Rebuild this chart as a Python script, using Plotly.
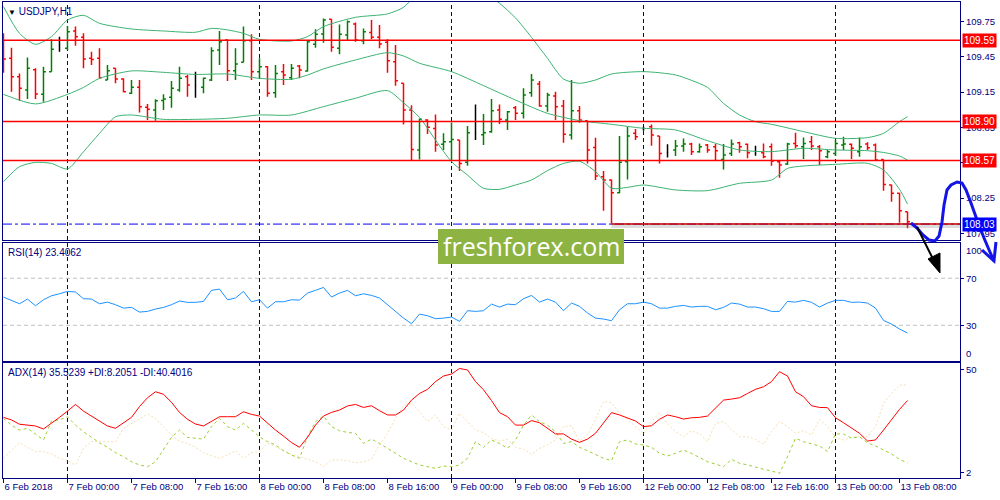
import plotly.graph_objects as go
from plotly.subplots import make_subplots

NAVY = "#000080"
BAND_COLOR = "#3CB371"
FONT = "Liberation Sans"

# hourly bars, 6 Feb 16:00 .. 13 Feb 09:00 (bar index on x)
bar_open = [
    109.508, 109.437, 109.281, 109.168, 109.340, 109.131, 109.323, 109.550, 109.522, 109.669,
    109.615, 109.437, 109.437, 109.253, 109.352, 109.261, 109.140, 109.191, 109.021, 108.998,
    109.080, 109.106, 109.168, 109.281, 109.207, 109.191, 109.253, 109.508, 109.592, 109.332,
    109.403, 109.587, 109.323, 109.366, 109.145, 109.323, 109.273, 109.372, 109.329, 109.556,
    109.643, 109.768, 109.522, 109.635, 109.728, 109.587, 109.657, 109.615, 109.573, 109.408,
    109.225, 108.998, 108.658, 108.913, 108.842, 108.707, 108.729, 108.743, 108.554, 108.800,
    108.789, 108.814, 108.998, 108.913, 109.018, 108.970, 109.145, 109.219, 109.032, 109.117,
    109.032, 108.786, 108.992, 108.908, 108.681, 108.432, 108.404, 108.296, 108.559, 108.800,
    108.837, 108.857, 108.777, 108.636, 108.658, 108.692, 108.709, 108.644, 108.701, 108.687,
    108.579, 108.630, 108.721, 108.707, 108.630, 108.636, 108.687, 108.559, 108.540, 108.715,
    108.687, 108.729, 108.687, 108.602, 108.630, 108.701, 108.707, 108.644, 108.709, 108.701,
    108.579, 108.362, 108.291, 108.135,
]
bar_high = [
    109.649, 109.527, 109.309, 109.445, 109.352, 109.366, 109.598, 109.621, 109.711, 109.706,
    109.649, 109.493, 109.522, 109.380, 109.352, 109.267, 109.253, 109.253, 109.049, 109.089,
    109.131, 109.244, 109.366, 109.295, 109.323, 109.275, 109.530, 109.669, 109.598, 109.522,
    109.706, 109.641, 109.437, 109.372, 109.380, 109.389, 109.389, 109.380, 109.592, 109.683,
    109.776, 109.768, 109.725, 109.757, 109.742, 109.691, 109.762, 109.720, 109.598, 109.550,
    109.225, 109.038, 108.927, 108.919, 108.961, 108.800, 108.893, 108.743, 108.862, 109.046,
    108.964, 109.092, 109.046, 108.990, 109.032, 109.182, 109.304, 109.244, 109.145, 109.154,
    109.083, 109.253, 109.032, 108.908, 108.763, 108.480, 108.409, 108.777, 108.857, 108.837,
    108.857, 108.876, 108.777, 108.707, 108.743, 108.757, 108.721, 108.715, 108.709, 108.709,
    108.709, 108.749, 108.729, 108.715, 108.695, 108.715, 108.715, 108.573, 108.721, 108.806,
    108.766, 108.777, 108.701, 108.658, 108.743, 108.772, 108.715, 108.766, 108.724, 108.715,
    108.579, 108.367, 108.296, 108.135,
]
bar_low = [
    109.315, 109.154, 109.077, 109.091, 109.091, 109.069, 109.323, 109.493, 109.508, 109.544,
    109.352, 109.380, 109.267, 109.253, 109.225, 109.148, 109.134, 108.978, 108.913, 108.908,
    108.998, 109.018, 109.154, 109.111, 109.103, 109.140, 109.244, 109.380, 109.244, 109.253,
    109.403, 109.253, 109.267, 109.111, 109.103, 109.210, 109.253, 109.267, 109.323, 109.527,
    109.570, 109.493, 109.471, 109.592, 109.578, 109.556, 109.598, 109.522, 109.315, 109.205,
    108.876, 108.565, 108.579, 108.794, 108.644, 108.658, 108.565, 108.480, 108.526, 108.743,
    108.701, 108.806, 108.879, 108.828, 108.913, 108.927, 109.111, 109.026, 108.984, 108.913,
    108.721, 108.749, 108.891, 108.545, 108.404, 108.144, 108.036, 108.291, 108.409, 108.743,
    108.823, 108.695, 108.545, 108.596, 108.607, 108.644, 108.616, 108.636, 108.636, 108.565,
    108.494, 108.607, 108.636, 108.588, 108.610, 108.588, 108.526, 108.424, 108.531, 108.673,
    108.582, 108.658, 108.531, 108.588, 108.607, 108.658, 108.582, 108.602, 108.658, 108.568,
    108.313, 108.220, 108.042, 107.994,
]
bar_close = [
    109.431, 109.281, 109.182, 109.352, 109.135, 109.323, 109.513, 109.550, 109.663, 109.621,
    109.431, 109.428, 109.273, 109.332, 109.261, 109.154, 109.191, 109.026, 109.004, 109.077,
    109.092, 109.182, 109.267, 109.210, 109.207, 109.267, 109.502, 109.578, 109.332, 109.389,
    109.587, 109.323, 109.366, 109.140, 109.309, 109.295, 109.352, 109.338, 109.578, 109.641,
    109.762, 109.530, 109.641, 109.748, 109.592, 109.663, 109.615, 109.558, 109.417, 109.247,
    108.998, 108.664, 108.919, 108.851, 108.701, 108.729, 108.749, 108.545, 108.806, 108.800,
    108.806, 108.992, 108.919, 108.984, 108.970, 109.125, 109.253, 109.032, 109.125, 109.026,
    108.792, 108.992, 108.913, 108.658, 108.438, 108.404, 108.296, 108.554, 108.777, 108.772,
    108.837, 108.786, 108.630, 108.636, 108.692, 108.709, 108.644, 108.687, 108.658, 108.653,
    108.616, 108.709, 108.687, 108.636, 108.630, 108.602, 108.565, 108.531, 108.709, 108.695,
    108.715, 108.692, 108.653, 108.644, 108.715, 108.709, 108.673, 108.687, 108.678, 108.573,
    108.367, 108.291, 108.144, 108.050,
]

# Bollinger bands at sample bars
bb_upper_bars = [0, 2, 4, 6, 8, 10, 12, 16, 20, 24, 26, 28, 30, 32, 36, 38, 40, 44, 48, 50,
                 52, 56, 60, 62, 64, 66, 68, 70, 72, 74, 76, 80, 84, 86, 88, 90, 92, 94, 96,
                 100, 104, 108, 110, 112, 113]
bb_upper = [109.876, 109.649, 109.556, 109.621, 109.762, 109.802, 109.734, 109.686, 109.669,
            109.658, 109.691, 109.678, 109.649, 109.598, 109.584, 109.621, 109.706, 109.785,
            109.814, 109.870, 110.000, 110.100, 110.000, 109.904, 109.780, 109.615, 109.437,
            109.261, 109.225, 109.253, 109.304, 109.324, 109.296, 109.250, 109.190, 109.055,
            108.956, 108.899, 108.877, 108.815, 108.758, 108.764, 108.800, 108.900, 108.942]
bb_middle_bars = [0, 4, 8, 10, 12, 16, 20, 24, 28, 32, 36, 38, 40, 44, 48, 50, 52, 56, 60,
                  64, 68, 72, 76, 80, 84, 88, 92, 96, 100, 104, 108, 110, 112, 113]
bb_middle = [109.131, 109.050, 109.131, 109.190, 109.267, 109.330, 109.318, 109.300, 109.304,
             109.267, 109.259, 109.295, 109.347, 109.423, 109.485, 109.457, 109.395, 109.324,
             109.205, 109.083, 108.970, 108.908, 108.877, 108.843, 108.829, 108.738, 108.659,
             108.645, 108.673, 108.659, 108.653, 108.638, 108.608, 108.574]
bb_lower_bars = [0, 2, 4, 6, 8, 10, 12, 14, 16, 20, 24, 28, 32, 36, 40, 44, 48, 50, 52, 54,
                 56, 58, 60, 62, 64, 66, 68, 70, 72, 74, 76, 78, 80, 84, 88, 92, 96, 98, 100,
                 104, 108, 110, 112, 113]
bb_lower = [108.390, 108.517, 108.554, 108.545, 108.498, 108.644, 108.800, 108.941, 108.956,
            108.919, 108.919, 108.928, 108.956, 108.956, 109.027, 109.098, 109.163, 109.060,
            108.936, 108.743, 108.560, 108.446, 108.334, 108.325, 108.362, 108.404, 108.484,
            108.545, 108.563, 108.475, 108.334, 108.342, 108.362, 108.320, 108.314, 108.376,
            108.404, 108.503, 108.523, 108.537, 108.546, 108.489, 108.325, 108.200]

rsi = [
    54.0, 51.2, 48.3, 52.3, 46.6, 51.7, 55.1, 56.8, 58.8, 58.3,
    52.6, 52.3, 48.3, 49.7, 47.5, 44.6, 45.2, 41.2, 41.8, 43.8,
    45.2, 47.5, 50.6, 49.5, 49.5, 50.3, 59.7, 60.8, 51.7, 53.2,
    58.8, 50.0, 51.7, 44.6, 50.0, 50.0, 51.7, 51.4, 57.4, 59.7,
    62.2, 54.0, 57.4, 59.7, 55.1, 56.8, 55.4, 53.2, 47.5, 41.8,
    36.1, 31.3, 39.5, 38.1, 35.6, 36.1, 37.0, 33.3, 42.4, 41.8,
    42.4, 48.0, 45.5, 48.0, 47.5, 52.6, 55.4, 49.7, 52.3, 49.7,
    42.4, 48.9, 46.1, 40.4, 36.1, 35.3, 33.9, 43.2, 48.3, 48.3,
    49.7, 48.3, 44.6, 44.6, 46.1, 46.9, 45.5, 46.1, 46.1, 43.2,
    45.2, 48.9, 48.0, 45.5, 45.5, 44.1, 41.8, 41.8, 50.3, 49.7,
    51.2, 49.5, 45.5, 48.9, 51.2, 51.2, 49.5, 49.7, 48.9, 44.6,
    34.1, 31.0, 26.8, 23.4,
]
adx = [
    27.7, 26.5, 24.5, 24.1, 23.7, 22.3, 24.9, 27.7, 30.6, 33.7,
    30.6, 28.3, 26.2, 23.7, 22.6, 25.2, 27.7, 32.7, 36.8, 39.6,
    38.4, 34.7, 30.0, 26.8, 24.6, 23.7, 25.7, 28.0, 28.0, 28.0,
    30.3, 29.1, 28.3, 24.9, 21.8, 19.0, 16.0, 13.8, 18.4, 24.1,
    28.3, 30.0, 31.1, 33.0, 33.7, 32.3, 33.1, 30.8, 28.8, 28.8,
    31.1, 35.7, 38.8, 40.7, 44.3, 46.9, 47.8, 50.4, 49.7, 44.3,
    40.5, 35.5, 29.9, 28.0, 24.1, 24.1, 26.2, 25.2, 22.6, 20.0,
    20.0, 17.6, 16.1, 17.6, 20.3, 24.9, 29.9, 28.8, 27.5, 26.0,
    23.4, 23.8, 26.8, 28.8, 28.0, 26.9, 27.5, 27.7, 28.3, 31.9,
    35.7, 36.2, 36.8, 38.8, 40.7, 41.9, 44.3, 48.9, 46.9, 39.6,
    37.3, 33.1, 32.3, 32.2, 27.5, 25.2, 22.9, 20.3, 16.7, 17.2,
    21.8, 26.5, 31.4, 35.5,
]
plus_di = [
    27.2, 24.1, 21.8, 22.6, 20.0, 17.2, 26.0, 26.5, 28.0, 24.1,
    21.0, 18.4, 15.9, 13.8, 11.3, 9.4, 7.1, 5.6, 4.8, 7.1,
    12.5, 18.4, 21.8, 18.4, 18.0, 17.6, 23.4, 27.2, 23.4, 21.8,
    24.9, 21.8, 18.7, 16.4, 14.9, 12.2, 10.2, 8.7, 18.7, 25.7,
    28.3, 23.4, 21.5, 20.7, 20.3, 15.6, 17.6, 15.6, 13.3, 11.0,
    8.7, 7.1, 5.6, 4.8, 4.0, 5.1, 4.8, 5.6, 8.7, 16.4,
    13.8, 17.2, 15.6, 13.3, 17.2, 24.1, 28.8, 25.7, 24.1, 21.0,
    15.6, 16.4, 13.8, 12.2, 10.5, 8.7, 7.6, 16.4, 17.2, 15.3,
    14.9, 13.8, 11.0, 9.8, 11.0, 12.5, 11.0, 9.1, 7.1, 6.0,
    4.8, 8.2, 6.4, 5.6, 4.5, 3.6, 2.8, 1.7, 9.4, 18.0,
    16.4, 15.3, 14.4, 11.8, 20.0, 20.0, 18.0, 18.7, 15.9, 14.4,
    12.5, 10.7, 8.2, 6.6,
]
minus_di = [
    8.7, 12.5, 15.9, 13.8, 11.8, 11.8, 10.7, 8.7, 7.6, 5.6,
    13.3, 16.4, 16.7, 16.4, 16.4, 22.6, 24.9, 26.8, 29.2, 27.2,
    23.4, 19.5, 16.7, 15.6, 13.8, 11.3, 9.8, 8.7, 10.2, 12.2,
    8.7, 11.3, 11.8, 15.6, 14.1, 12.2, 10.5, 9.4, 8.4, 7.1,
    4.8, 7.9, 7.9, 7.6, 6.6, 7.1, 8.2, 14.9, 20.3, 27.2,
    32.7, 34.5, 30.3, 25.7, 28.8, 23.4, 21.8, 29.6, 25.7, 21.8,
    20.6, 17.9, 16.7, 17.5, 13.8, 12.9, 10.5, 13.3, 14.9, 17.2,
    23.4, 23.8, 16.7, 19.5, 26.8, 35.0, 34.5, 29.6, 26.8, 23.4,
    20.0, 25.7, 29.9, 24.6, 21.0, 18.7, 21.5, 20.0, 16.4, 24.9,
    25.7, 22.1, 18.7, 18.7, 17.5, 15.3, 21.0, 25.7, 23.4, 20.3,
    21.5, 19.5, 26.8, 23.4, 18.4, 17.2, 18.4, 19.0, 18.7, 23.4,
    34.2, 38.8, 42.7, 42.7,
]

label_bars = [0, 8, 16, 24, 32, 40, 48, 56, 64, 72, 80, 88, 96, 104, 112]
label_text = ["6 Feb 2018", "7 Feb 00:00", "7 Feb 08:00", "7 Feb 16:00", "8 Feb 00:00",
              "8 Feb 08:00", "8 Feb 16:00", "9 Feb 00:00", "9 Feb 08:00", "9 Feb 16:00",
              "12 Feb 00:00", "12 Feb 08:00", "12 Feb 16:00", "13 Feb 00:00", "13 Feb 08:00"]
day_start_bars = [8, 32, 56, 80, 104]

price_ticks = [107.95, 108.25, 108.55, 108.85, 109.15, 109.45, 109.75]
red_levels = [109.59, 108.90, 108.57]
blue_level = 108.03
support_start_bar = 76

X_RANGE = [-0.06, 119.56]
PRICE_RANGE = [107.895, 109.915]
ADX_RANGE = [-0.46, 53.16]

# plot area in pixels (for the hand-made drawings on top)
PLOT_L, PLOT_R, PLOT_T, PLOT_B = 3, 960, 2, 478


def to_paper(px, py):
    return (px - PLOT_L) / (PLOT_R - PLOT_L), (PLOT_B - py) / (PLOT_B - PLOT_T)


def path_from_px(points, close=False):
    parts = []
    for i, (px, py) in enumerate(points):
        x, y = to_paper(px, py)
        parts.append(("M" if i == 0 else "L") + f"{x:.4f},{y:.4f}")
    return " ".join(parts) + (" Z" if close else "")


bars = list(range(len(bar_close)))

fig = make_subplots(rows=3, cols=1, shared_xaxes=True, vertical_spacing=0.0)

# price bars split by direction, dojis in black
groups = [
    ("up", "#008000", 0.3, [i for i in bars if bar_close[i] > bar_open[i]]),
    ("down", "#FF0000", 0.3, [i for i in bars if bar_close[i] < bar_open[i]]),
    ("doji", "#000000", 0.1, [i for i in bars if bar_close[i] == bar_open[i]]),
]
for name, color, tw, idx in groups:
    fig.add_trace(go.Ohlc(
        x=idx,
        open=[bar_open[i] for i in idx],
        high=[bar_high[i] for i in idx],
        low=[bar_low[i] for i in idx],
        close=[bar_close[i] for i in idx],
        increasing=dict(line=dict(color=color, width=1.5)),
        decreasing=dict(line=dict(color=color, width=1.5)),
        tickwidth=tw, hoverinfo="skip", name=name,
    ), row=1, col=1)

for bx, by in [(bb_upper_bars, bb_upper), (bb_middle_bars, bb_middle), (bb_lower_bars, bb_lower)]:
    fig.add_trace(go.Scatter(x=bx, y=by, mode="lines", hoverinfo="skip",
                             line=dict(color=BAND_COLOR, width=1, shape="spline", smoothing=0.7)),
                  row=1, col=1)

fig.add_trace(go.Scatter(x=bars, y=rsi, mode="lines", hoverinfo="skip",
                         line=dict(color="#1E90FF", width=1)), row=2, col=1)

fig.add_trace(go.Scatter(x=bars, y=minus_di, mode="lines", hoverinfo="skip",
                         line=dict(color="#F5DEB3", width=1, dash="2px,2px")), row=3, col=1)
fig.add_trace(go.Scatter(x=bars, y=plus_di, mode="lines", hoverinfo="skip",
                         line=dict(color="#9ACD32", width=1, dash="3px,3px")), row=3, col=1)
fig.add_trace(go.Scatter(x=bars, y=adx, mode="lines", hoverinfo="skip",
                         line=dict(color="#FF0000", width=1)), row=3, col=1)

# day separators
for b in day_start_bars:
    fig.add_shape(type="line", xref="x", yref="paper", x0=b, x1=b, y0=0, y1=1,
                  line=dict(color=NAVY, width=1, dash="4px,3px"), layer="below")

# RSI levels
for lvl in [70, 30]:
    fig.add_shape(type="line", xref="x2 domain", yref="y2", x0=0, x1=1, y0=lvl, y1=lvl,
                  line=dict(color="#C0C0C0", width=1, dash="4px,3px"), layer="below")

# horizontal levels on price
fig.add_shape(type="line", xref="x domain", yref="y", x0=0, x1=1, y0=blue_level, y1=blue_level,
              line=dict(color="#0000FF", width=1, dash="dashdot"))
for lvl in red_levels:
    fig.add_shape(type="line", xref="x domain", yref="y", x0=0, x1=1, y0=lvl, y1=lvl,
                  line=dict(color="#FF0000", width=1.5))
fig.add_shape(type="line", xref="x", yref="y", x0=support_start_bar, x1=X_RANGE[1],
              y0=blue_level - 0.012, y1=blue_level - 0.012,
              line=dict(color="rgba(120,120,120,0.25)", width=5))
fig.add_shape(type="line", xref="x", yref="y", x0=support_start_bar, x1=X_RANGE[1],
              y0=blue_level, y1=blue_level, line=dict(color="#D00000", width=1.5))

# price labels on the right scale
annotations = []
for lvl in red_levels:
    annotations.append(dict(xref="paper", yref="y", x=1, y=lvl, xanchor="left", xshift=2,
                            text=f"{lvl:.2f}", showarrow=False, bgcolor="#FF0000",
                            borderpad=1, font=dict(family=FONT, size=10, color="white")))
annotations.append(dict(xref="paper", yref="y", x=1, y=blue_level, xanchor="left", xshift=2,
                        text=f"{blue_level:.2f}", showarrow=False, bgcolor="#0000FF",
                        borderpad=1, font=dict(family=FONT, size=10, color="white")))
annotations.append(dict(xref="paper", yref="y2", x=1, y=100, xanchor="left", yanchor="top",
                        xshift=4, text="100", showarrow=False,
                        font=dict(family=FONT, size=9.5, color=NAVY)))
annotations.append(dict(xref="paper", yref="y2", x=1, y=0, xanchor="left", yanchor="bottom",
                        xshift=4, text="0", showarrow=False,
                        font=dict(family=FONT, size=9.5, color=NAVY)))

# indicator captions
tx, ty = to_paper(6, 11)
annotations.append(dict(xref="paper", yref="paper", x=tx, y=ty, xanchor="left", yanchor="middle",
                        text="<span style='font-size:8px;color:#000000'>▼</span> USDJPY,H1",
                        showarrow=False, font=dict(family=FONT, size=10, color=NAVY)))
tx, ty = to_paper(6, 252)
annotations.append(dict(xref="paper", yref="paper", x=tx, y=ty, xanchor="left", yanchor="middle",
                        text="RSI(14) 23.4062", showarrow=False,
                        font=dict(family=FONT, size=10, color=NAVY)))
tx, ty = to_paper(6, 372)
annotations.append(dict(xref="paper", yref="paper", x=tx, y=ty, xanchor="left", yanchor="middle",
                        text="ADX(14) 35.5239 +DI:8.2051 -DI:40.4016", showarrow=False,
                        font=dict(family=FONT, size=10, color=NAVY)))

# watermark
wx0, wy0 = to_paper(438, 264)
wx1, wy1 = to_paper(624, 229)
fig.add_shape(type="rect", xref="paper", yref="paper", x0=wx0, y0=wy0, x1=wx1, y1=wy1,
              fillcolor="#8DB443", line=dict(width=0), layer="above")
annotations.append(dict(xref="paper", yref="paper", x=(wx0 + wx1) / 2, y=(wy0 + wy1) / 2,
                        text="freshforex.com", showarrow=False,
                        font=dict(family="Open Sans", size=25, color="white")))

# hand-drawn forecast arrows
blue_curve = [(911, 223), (917, 228), (923, 235), (929, 240), (935, 241), (939, 236), (942, 222),
              (944, 205), (947, 190), (951, 185), (957, 182), (962, 183), (966, 190), (971, 203),
              (977, 220), (984, 238), (990, 252), (994, 261)]
blue_head = [(982, 250), (994, 261), (996, 242)]
black_line = [(917, 227), (934, 261)]
black_head = [(940, 273), (928, 259), (940, 253)]
fig.add_shape(type="path", xref="paper", yref="paper", path=path_from_px(blue_curve),
              line=dict(color="#1414E6", width=3), layer="above")
fig.add_shape(type="path", xref="paper", yref="paper", path=path_from_px(blue_head),
              line=dict(color="#1414E6", width=3), layer="above")
fig.add_shape(type="path", xref="paper", yref="paper", path=path_from_px(black_line),
              line=dict(color="#000000", width=2), layer="above")
fig.add_shape(type="path", xref="paper", yref="paper", path=path_from_px(black_head, close=True),
              line=dict(color="#000000", width=1), fillcolor="#000000", layer="above")

axis_font = dict(family=FONT, size=9.5, color=NAVY)
fig.update_xaxes(range=X_RANGE, showgrid=False, zeroline=False, showline=True, mirror=True,
                 linecolor=NAVY, linewidth=1, rangeslider_visible=False, fixedrange=True,
                 automargin=False)
fig.update_xaxes(tickvals=label_bars, ticktext=label_text, ticks="outside", ticklen=4,
                 tickcolor=NAVY, tickfont=axis_font, ticklabelposition="outside right",
                 tickangle=0, showticklabels=True, row=3, col=1)
fig.update_yaxes(side="right", showgrid=False, zeroline=False, showline=True, mirror=True,
                 linecolor=NAVY, linewidth=1, ticks="outside", ticklen=3, tickcolor=NAVY,
                 tickfont=axis_font, fixedrange=True, automargin=False)

fig.update_layout(
    width=1000, height=500,
    margin=dict(l=PLOT_L, r=1000 - PLOT_R, t=PLOT_T, b=500 - PLOT_B, autoexpand=False),
    paper_bgcolor="white", plot_bgcolor="white",
    showlegend=False,
    annotations=annotations,
    yaxis=dict(domain=[0.5, 1.0], range=PRICE_RANGE, tickvals=price_ticks,
               ticktext=[f"{v:.2f}" for v in price_ticks]),
    yaxis2=dict(domain=[0.2468, 0.4937], range=[0, 100], tickvals=[30, 70]),
    yaxis3=dict(domain=[0.0, 0.2426], range=ADX_RANGE, tickvals=[2, 50]),
)

# the page body has a default 8px margin; drop it so the chart sits at the window corner
fig.write_html("out.html", config={"displayModeBar": False},
               post_script="document.body.style.margin='0';document.body.style.overflow='hidden';")
